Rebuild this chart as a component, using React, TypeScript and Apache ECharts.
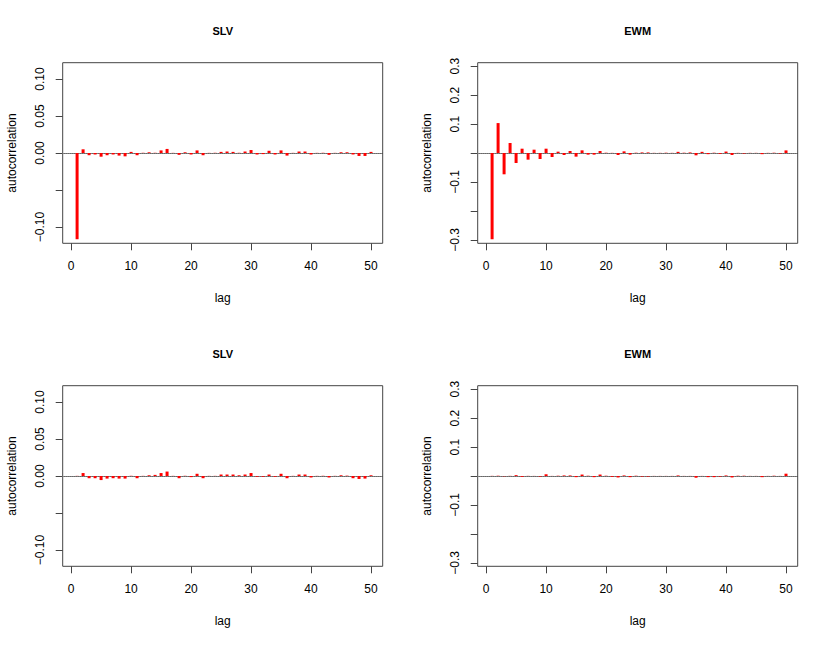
import React, { useEffect, useRef } from "react";
import * as echarts from "echarts";

const lags = [1, 2, 3, 4, 5, 6, 7, 8, 9, 10, 11, 12, 13, 14, 15, 16, 17, 18, 19, 20, 21, 22, 23, 24, 25, 26, 27, 28, 29, 30, 31, 32, 33, 34, 35, 36, 37, 38, 39, 40, 41, 42, 43, 44, 45, 46, 47, 48, 49, 50];

const slvAcf = [-0.1165, 0.005, -0.003, -0.002, -0.005, -0.003, -0.002, -0.0035, -0.0045, 0.0015, -0.003, 0.0003, 0.001, 0.0003, 0.0035, 0.0055, 0.0002, -0.0025, 0.001, -0.002, 0.0035, -0.003, 0.0002, 0.0003, 0.0015, 0.002, 0.0015, 0.0003, 0.002, 0.004, -0.002, -0.0015, 0.003, -0.002, 0.0035, -0.0035, 0.0002, 0.002, 0.002, -0.002, 0.0002, 0.0003, -0.0025, 0.0002, 0.001, 0.001, -0.002, -0.004, -0.004, 0.0015];

const ewmAcf = [-0.298, 0.1034, -0.0736, 0.0345, -0.0345, 0.0149, -0.023, 0.0115, -0.0207, 0.0149, -0.0138, 0.0046, -0.0069, 0.0069, -0.0126, 0.0092, -0.0057, -0.0057, 0.0069, 0.001, 0.0005, -0.0069, 0.0057, -0.0057, 0.001, 0.002, 0.002, 0.0005, 0.0005, 0.001, 0.0005, 0.004, 0.001, 0.002, -0.008, 0.004, -0.004, 0.001, -0.003, 0.005, -0.007, 0.0005, -0.002, 0.0005, 0.0005, -0.004, 0.0005, 0.001, -0.002, 0.009];

const slvResidAcf = [0.0002, 0.004, -0.003, -0.003, -0.0055, -0.0035, -0.003, -0.0035, -0.0035, 0.0003, -0.003, 0.0002, 0.001, 0.0015, 0.004, 0.006, 0.0002, -0.003, 0.0003, -0.0015, 0.003, -0.003, 0.0002, 0.0002, 0.002, 0.002, 0.002, 0.001, 0.002, 0.004, -0.001, -0.001, 0.002, -0.001, 0.003, -0.003, 0.0002, 0.002, 0.002, -0.002, 0.0002, 0.0003, -0.002, 0.0002, 0.001, 0.0005, -0.003, -0.004, -0.0035, 0.001];

const ewmResidAcf = [0.0005, 0.001, -0.001, 0.0005, 0.003, -0.003, 0.0005, 0.0003, -0.002, 0.006, 0.0003, 0.001, 0.002, 0.002, -0.004, 0.005, 0.001, -0.004, 0.005, 0.001, -0.003, -0.005, 0.002, -0.004, 0.001, -0.002, -0.002, 0.0003, 0.0003, 0.0003, 0.0003, 0.002, 0.0003, 0.0003, -0.006, 0.0003, -0.004, -0.004, -0.002, 0.002, -0.005, 0.001, 0.001, 0.0003, 0.0003, -0.004, 0.0003, 0.001, 0.0003, 0.008];

const xTicks = [0, 10, 20, 30, 40, 50];
const slvYTicks = [-0.1, -0.05, 0, 0.05, 0.1];
const slvYLabels = [-0.1, 0, 0.05, 0.1];
const ewmYTicks = [-0.3, -0.2, -0.1, 0, 0.1, 0.2, 0.3];
const ewmYLabels = [-0.3, -0.1, 0.1, 0.2, 0.3];
const clim = 0.0049;
const titles = ["SLV", "EWM", "SLV", "EWM"];

const FONT = '"Liberation Sans", Arial, Helvetica, sans-serif';

function fmt(v: number, d: number) {
  return (v < 0 ? "\u2212" : "") + Math.abs(v).toFixed(d);
}

export default function App() {
  const ref = useRef<HTMLDivElement>(null);
  useEffect(() => {
    if (!ref.current) return;
    const chart = echarts.init(ref.current, undefined, { renderer: "svg" });
    const W = 320;
    const H = 180.6;
    const panels = [
      { left: 62.7, top: 62.7, ymax: 0.122, ticks: slvYTicks, labels: slvYLabels, dec: 2, data: slvAcf },
      { left: 477.7, top: 62.7, ymax: 0.312, ticks: ewmYTicks, labels: ewmYLabels, dec: 1, data: ewmAcf },
      { left: 62.7, top: 385.7, ymax: 0.122, ticks: slvYTicks, labels: slvYLabels, dec: 2, data: slvResidAcf },
      { left: 477.7, top: 385.7, ymax: 0.312, ticks: ewmYTicks, labels: ewmYLabels, dec: 1, data: ewmResidAcf },
    ];
    const grid: any[] = [];
    const xAxis: any[] = [];
    const yAxis: any[] = [];
    const series: any[] = [];
    const graphic: any[] = [];
    panels.forEach((p, i) => {
      grid.push({
        left: p.left, top: p.top, width: W, height: H,
        show: true, borderColor: "#444", borderWidth: 1, backgroundColor: "transparent",
      });
      xAxis.push({
        type: "value", gridIndex: i, min: -1.4, max: 51.95, position: "bottom",
        splitLine: { show: false },
        axisLine: { show: false, onZero: false },
        axisTick: { show: true, inside: false, length: 7, customValues: xTicks, lineStyle: { color: "#444" } },
        axisLabel: { customValues: xTicks, margin: 17, color: "#000", fontSize: 12, fontFamily: FONT },
      });
      yAxis.push({
        type: "value", gridIndex: i, min: -p.ymax, max: p.ymax, position: "left",
        splitLine: { show: false },
        axisLine: { show: false, onZero: false },
        axisTick: { show: true, inside: false, length: 7, customValues: p.ticks, lineStyle: { color: "#444" } },
        axisLabel: {
          customValues: p.labels, rotate: 90, margin: 17, color: "#000", fontSize: 12, fontFamily: FONT,
          formatter: (v: number) => fmt(v, p.dec),
        },
      });
      series.push({
        type: "line", xAxisIndex: i, yAxisIndex: i, data: [], z: 1, silent: true,
        markLine: {
          silent: true, symbol: ["none", "none"], label: { show: false }, z: 1,
          data: [
            { yAxis: 0, lineStyle: { color: "#444", type: "solid", width: 1 } },
            { yAxis: clim, lineStyle: { color: "#888", type: "dotted", width: 1 } },
            { yAxis: -clim, lineStyle: { color: "#888", type: "dotted", width: 1 } },
          ],
        },
      });
      series.push({
        type: "bar", xAxisIndex: i, yAxisIndex: i, barWidth: 3,
        data: lags.map((l, k) => [l, p.data[k]]),
        itemStyle: { color: "#ff0000" },
        z: 10,
      });
      const cx = p.left + W / 2;
      const cy = p.top + H / 2;
      graphic.push({
        type: "text", x: cx, y: p.top - 32,
        style: { text: titles[i], fontSize: 11, fontWeight: "bold", fontFamily: FONT, fill: "#000", textAlign: "center", textVerticalAlign: "middle" },
      });
      graphic.push({
        type: "text", x: cx, y: p.top + 235.3,
        style: { text: "lag", fontSize: 12, fontFamily: FONT, fill: "#000", textAlign: "center", textVerticalAlign: "middle" },
      });
      graphic.push({
        type: "text", x: p.left - 50.7, y: cy, rotation: Math.PI / 2,
        style: { text: "autocorrelation", fontSize: 12, fontFamily: FONT, fill: "#000", textAlign: "center", textVerticalAlign: "middle" },
      });
    });
    chart.setOption({
      animation: false,
      backgroundColor: "#fff",
      grid, xAxis, yAxis, series, graphic,
    });
    return () => chart.dispose();
  }, []);
  return <div ref={ref} style={{ position: "absolute", left: 0, top: 0, width: 830, height: 646 }} />;
}
